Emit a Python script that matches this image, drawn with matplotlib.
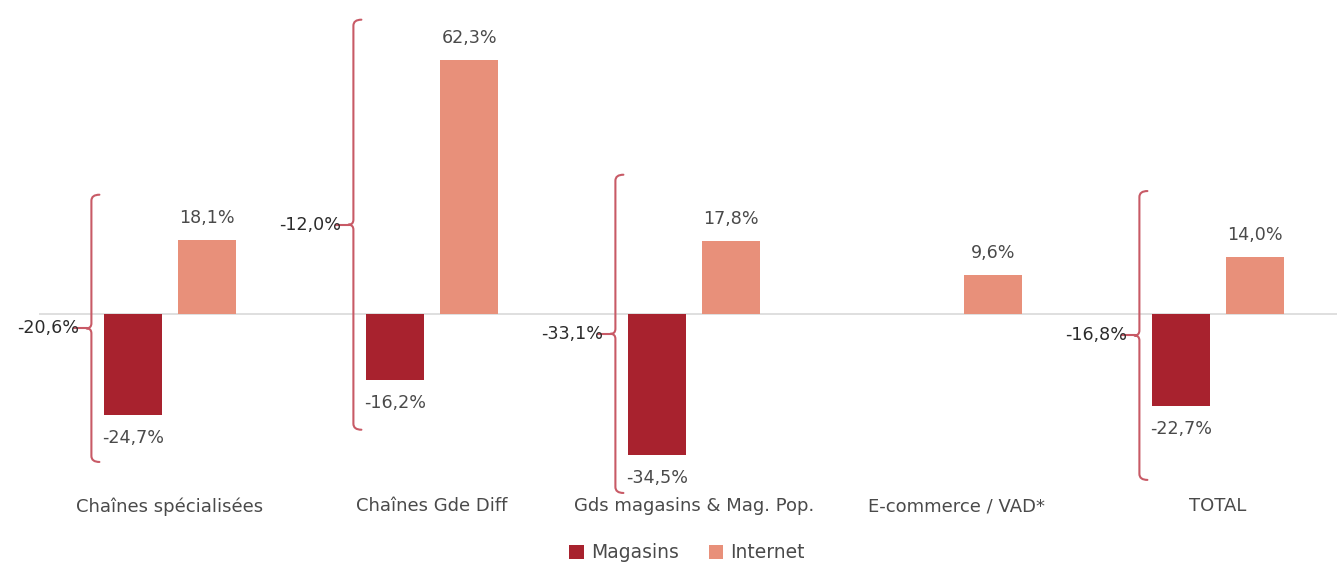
import matplotlib
matplotlib.use('Agg')
import matplotlib.pyplot as plt
from matplotlib.path import Path
from matplotlib.patches import PathPatch, Patch

categories = ["Chaînes spécialisées", "Chaînes Gde Diff", "Gds magasins & Mag. Pop.",
              "E-commerce / VAD*", "TOTAL"]
magasins = [-24.7, -16.2, -34.5, None, -22.7]
internet = [18.1, 62.3, 17.8, 9.6, 14.0]
totals = [-20.6, -12.0, -33.1, None, -16.8]
brace_top = [29.2, 72.1, 34.1, None, 30.1]
brace_bottom = [-36.3, -28.4, -43.9, None, -40.7]

C_MAG = '#A8222E'
C_INT = '#E8907A'
C_BRACE = '#C85A66'
C_TXT = '#4a4a4a'
C_TOT = '#2b2b2b'

def fmt(v):
    return f"{v:.1f}%".replace('.', ',')

W, H = 1337, 565
fig = plt.figure(figsize=(W / 100, H / 100), dpi=100)
ax = fig.add_axes([39 / W, 70 / H, (W - 39) / W, 490 / H])
ax.set_xlim(-0.5, 4.5 - 12 / 262)
ax.set_ylim(-44.4, 75.7)

pxx = 1 / 262.0   # data units per pixel (x)
pxy = 1 / 4.08    # data units per pixel (y)

ax.axhline(0, color='#D9D9D9', lw=1.2, zorder=1)

FS = 12.6
off = 0.142
bw = 0.222
for i, cat in enumerate(categories):
    if magasins[i] is not None:
        ax.bar(i - off, magasins[i], width=bw, color=C_MAG, zorder=2)
        ax.text(i - off, magasins[i] - 23 * pxy, fmt(magasins[i]), ha='center', va='center',
                fontsize=FS, color=C_TXT)
    if internet[i] is not None:
        ax.bar(i + off, internet[i], width=bw, color=C_INT, zorder=2)
        ax.text(i + off, internet[i] + 22 * pxy, fmt(internet[i]), ha='center', va='center',
                fontsize=FS, color=C_TXT)
    if totals[i] is not None:
        xb = i - 0.30
        top, bot = brace_top[i], brace_bottom[i]
        mid = (top + bot) / 2
        hx = 8 * pxx
        hy = 6 * pxy
        nx = 5 * pxx
        ny = 5 * pxy
        verts = [
            (xb + hx, top), (xb, top), (xb, top - hy),
            (xb, mid + ny), (xb, mid), (xb - nx, mid),
            (xb, mid), (xb, mid - ny),
            (xb, bot + hy), (xb, bot), (xb + hx, bot),
        ]
        codes = [Path.MOVETO, Path.CURVE3, Path.CURVE3,
                 Path.LINETO, Path.CURVE3, Path.CURVE3,
                 Path.CURVE3, Path.CURVE3,
                 Path.LINETO, Path.CURVE3, Path.CURVE3]
        ax.add_patch(PathPatch(Path(verts, codes), fill=False, edgecolor=C_BRACE, lw=1.5,
                               zorder=3, capstyle='round', joinstyle='round'))
        ax.plot([xb - 17 * pxx, xb - nx], [mid, mid], color=C_BRACE, lw=1.5, zorder=3)
        ax.text(xb - 12 * pxx, mid, fmt(totals[i]), ha='right', va='center',
                fontsize=FS, color=C_TOT, zorder=4)

ax.set_xticks(range(len(categories)))
ax.set_xticklabels(categories, fontsize=13, color=C_TXT)
ax.tick_params(axis='x', length=0, pad=1.5)
ax.set_yticks([])
for s in ax.spines.values():
    s.set_visible(False)

handles = [Patch(facecolor=C_MAG), Patch(facecolor=C_INT)]
fig.legend(handles, ['Magasins', 'Internet'], loc='lower center', bbox_to_anchor=(0.514, -0.025),
           ncol=2, frameon=False, fontsize=13.5, handlelength=0.75, handleheight=0.75,
           handletextpad=0.4, columnspacing=1.6, labelcolor=C_TXT)

fig.savefig('out.png', dpi=100)
